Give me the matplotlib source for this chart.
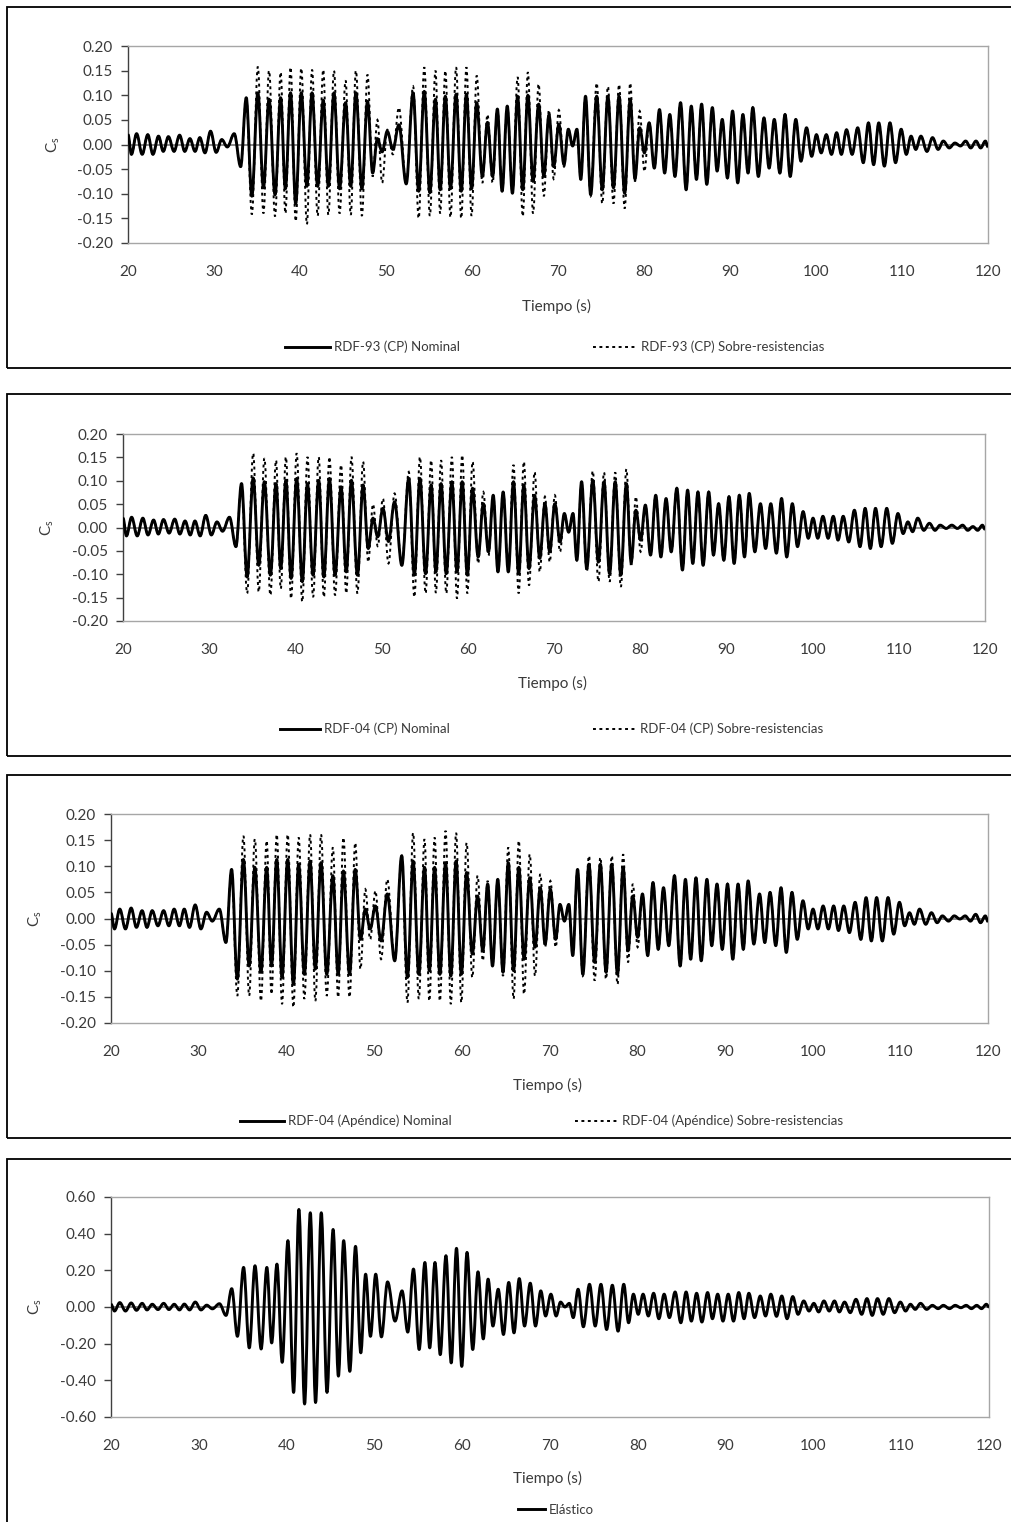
import matplotlib
matplotlib.use("Agg")
import matplotlib.pyplot as plt
from matplotlib.lines import Line2D
from matplotlib.patches import Rectangle, PathPatch
from matplotlib.path import Path
from matplotlib.ticker import FuncFormatter

plt.rcParams['font.family'] = ['Lato', 'DejaVu Sans']
plt.rcParams['font.weight'] = 'normal'
plt.rcParams['mathtext.fontset'] = 'custom'
plt.rcParams['mathtext.rm'] = 'Lato'

# ---------------- data (times of the successive extremes, s) ----------------
t_ext = [20.0, 20.4, 21.0, 21.65, 22.3, 22.9, 23.55, 24.1, 24.7, 25.35, 26.0, 26.6,
         27.2, 27.8, 28.35, 28.95, 29.6, 30.25, 30.9, 31.55, 32.35, 33.1,
         33.75, 34.4, 35.1, 35.75, 36.4, 37.1, 37.75, 38.3, 38.9, 39.5, 40.15, 40.8,
         41.4, 42.05, 42.7, 43.3, 43.95, 44.6, 45.3, 45.9, 46.5, 47.2, 47.85, 48.45,
         49.0, 49.55, 50.15, 50.8, 51.5, 52.35,
         53.15, 53.8, 54.45, 55.1, 55.75, 56.3, 56.9, 57.5, 58.15, 58.75, 59.35, 59.95,
         60.55, 61.2, 61.8, 62.4, 62.95, 63.5, 64.1, 64.7, 65.3, 65.9, 66.5, 67.1,
         67.75, 68.35, 68.95, 69.5,
         70.1, 70.7, 71.2, 71.7, 72.2, 72.65,
         73.2, 73.8, 74.5, 75.15, 75.8, 76.45, 77.1, 77.75, 78.4, 78.95, 79.5, 80.05,
         80.6, 81.2, 81.8, 82.4, 83.0, 83.6, 84.25, 84.9, 85.5, 86.1, 86.7, 87.3,
         87.95, 88.5, 89.1, 89.7, 90.3, 90.9, 91.5, 92.1, 92.65, 93.3, 93.95, 94.55,
         95.15, 95.8, 96.4, 97.0, 97.65, 98.25, 98.9, 99.5,
         100.05, 100.6, 101.2, 101.8, 102.4, 102.95, 103.55, 104.2, 104.85, 105.5,
         106.1, 106.7, 107.3, 107.95, 108.6, 109.25, 109.9, 110.5, 111.05, 111.6,
         112.2, 112.9, 113.55, 114.2, 114.8, 115.5, 116.15, 116.8, 117.4, 118.0,
         118.6, 119.15, 119.7, 120.0]

# RDF-93 (CP) Nominal
nom_93 = [0.02, -0.02, 0.022, -0.02, 0.02, -0.02, 0.017, -0.014, 0.016, -0.014,
          0.019, -0.014, 0.012, -0.014, 0.014, -0.017, 0.027, -0.016, 0.01, -0.005, 0.022, -0.045,
          0.095, -0.105, 0.105, -0.088, 0.092, -0.102, 0.095, -0.09, 0.105, -0.12,
          0.105, -0.085, 0.105, -0.085, 0.09, -0.085, 0.105, -0.09, 0.085, -0.085, 0.105, -0.09, 0.088, -0.058,
          0.012, -0.015, 0.027, -0.01, 0.04, -0.08,
          0.105, -0.095, 0.108, -0.098, 0.092, -0.092, 0.098, -0.09, 0.102, -0.095,
          0.102, -0.09, 0.085, -0.065, 0.045, -0.065, 0.072, -0.095, 0.078, -0.099,
          0.098, -0.092, 0.1, -0.075, 0.082, -0.065, 0.06, -0.045,
          0.041, -0.041, 0.031, -0.003, 0.031, -0.071,
          0.098, -0.102, 0.098, -0.092, 0.098, -0.088, 0.098, -0.099, 0.092, -0.07, 0.034, -0.017,
          0.044, -0.048, 0.071, -0.058, 0.061, -0.065, 0.085, -0.092, 0.078, -0.071,
          0.082, -0.081, 0.075, -0.054, 0.051, -0.068, 0.068, -0.078, 0.061, -0.058,
          0.075, -0.065, 0.054, -0.048, 0.051, -0.058, 0.061, -0.065, 0.051, -0.034, 0.034, -0.024,
          0.02, -0.017, 0.02, -0.02, 0.024, -0.02, 0.03, -0.02, 0.034, -0.037,
          0.044, -0.041, 0.044, -0.044, 0.044, -0.037, 0.031, -0.02, 0.017, -0.01,
          0.017, -0.014, 0.014, -0.01, 0.007, -0.007, 0.003, -0.003, 0.007, -0.007,
          0.007, -0.007, 0.007, -0.005]
# RDF-93 (CP) Sobre-resistencias, strong-motion part (33.75 s - 80.05 s)
sob_93_mid = [0.095, -0.142, 0.158, -0.14, 0.15, -0.146, 0.147, -0.14, 0.157, -0.156,
              0.155, -0.162, 0.152, -0.145, 0.152, -0.143, 0.15, -0.14, 0.13, -0.143, 0.15, -0.145, 0.142, -0.065,
              0.05, -0.078, 0.03, -0.02, 0.075, -0.08,
              0.118, -0.15, 0.157, -0.145, 0.15, -0.14, 0.15, -0.148, 0.157, -0.15,
              0.157, -0.145, 0.14, -0.078, 0.061, -0.078, 0.072, -0.095, 0.078, -0.099,
              0.137, -0.146, 0.147, -0.14, 0.123, -0.105, 0.07, -0.07,
              0.07, -0.045, 0.031, -0.003, 0.031, -0.071,
              0.098, -0.105, 0.125, -0.12, 0.118, -0.12, 0.122, -0.13, 0.125, -0.075, 0.068, -0.055]

# RDF-04 (CP) Nominal
nom_04 = [0.02, -0.018, 0.022, -0.018, 0.02, -0.016, 0.016, -0.014, 0.017, -0.012,
          0.018, -0.014, 0.014, -0.016, 0.014, -0.018, 0.026, -0.016, 0.012, -0.008, 0.022, -0.041,
          0.094, -0.106, 0.106, -0.081, 0.098, -0.102, 0.094, -0.088, 0.101, -0.109,
          0.105, -0.116, 0.094, -0.102, 0.101, -0.106, 0.105, -0.102, 0.087, -0.095, 0.101, -0.102, 0.091, -0.045,
          0.02, -0.02, 0.041, -0.03, 0.055, -0.081,
          0.105, -0.102, 0.105, -0.099, 0.091, -0.095, 0.094, -0.099, 0.098, -0.095,
          0.098, -0.102, 0.084, -0.063, 0.051, -0.052, 0.069, -0.095, 0.076, -0.095,
          0.098, -0.099, 0.091, -0.088, 0.069, -0.066, 0.051, -0.052,
          0.051, -0.031, 0.03, -0.01, 0.03, -0.07,
          0.098, -0.088, 0.101, -0.074, 0.098, -0.099, 0.098, -0.102, 0.094, -0.074, 0.037, -0.027,
          0.048, -0.059, 0.069, -0.063, 0.062, -0.052, 0.084, -0.091, 0.08, -0.077,
          0.076, -0.081, 0.076, -0.059, 0.051, -0.07, 0.066, -0.077, 0.069, -0.063,
          0.073, -0.052, 0.051, -0.045, 0.051, -0.055, 0.062, -0.063, 0.051, -0.041, 0.034, -0.023,
          0.02, -0.023, 0.024, -0.023, 0.024, -0.027, 0.024, -0.031, 0.037, -0.041,
          0.041, -0.045, 0.041, -0.041, 0.041, -0.034, 0.03, -0.013, 0.012, -0.009,
          0.02, -0.006, 0.009, -0.006, 0.005, -0.002, 0.005, -0.002, 0.005, -0.006,
          0.002, -0.006, 0.005, -0.004]
sob_04_mid = [0.094, -0.141, 0.159, -0.138, 0.148, -0.145, 0.144, -0.131, 0.151, -0.152,
              0.159, -0.159, 0.151, -0.149, 0.151, -0.149, 0.151, -0.145, 0.134, -0.141, 0.151, -0.141, 0.141, -0.074,
              0.05, -0.04, 0.062, -0.077, 0.073, -0.081,
              0.119, -0.149, 0.151, -0.141, 0.144, -0.14, 0.144, -0.141, 0.151, -0.152,
              0.155, -0.141, 0.141, -0.077, 0.076, -0.06, 0.069, -0.095, 0.076, -0.095,
              0.134, -0.141, 0.141, -0.124, 0.119, -0.095, 0.066, -0.074,
              0.069, -0.052, 0.03, -0.01, 0.03, -0.07,
              0.098, -0.095, 0.121, -0.116, 0.118, -0.116, 0.118, -0.127, 0.125, -0.084, 0.066, -0.052]

# RDF-04 (Apéndice) Nominal
nom_ap = [0.01, -0.02, 0.018, -0.02, 0.02, -0.017, 0.015, -0.017, 0.015, -0.014,
          0.015, -0.014, 0.018, -0.014, 0.018, -0.017, 0.026, -0.02, 0.012, -0.005, 0.018, -0.046,
          0.094, -0.116, 0.113, -0.091, 0.098, -0.103, 0.098, -0.091, 0.113, -0.113,
          0.113, -0.126, 0.104, -0.107, 0.11, -0.097, 0.107, -0.107, 0.082, -0.107, 0.091, -0.107, 0.094, -0.04,
          0.018, -0.02, 0.024, -0.043, 0.047, -0.081,
          0.12, -0.113, 0.11, -0.107, 0.098, -0.1, 0.098, -0.107, 0.107, -0.11,
          0.11, -0.107, 0.088, -0.068, 0.043, -0.062, 0.066, -0.091, 0.075, -0.103,
          0.107, -0.1, 0.098, -0.078, 0.078, -0.055, 0.059, -0.049,
          0.056, -0.04, 0.027, -0.005, 0.027, -0.071,
          0.094, -0.107, 0.104, -0.084, 0.104, -0.103, 0.104, -0.107, 0.098, -0.062, 0.043, -0.036,
          0.047, -0.071, 0.069, -0.059, 0.059, -0.052, 0.082, -0.091, 0.075, -0.078,
          0.078, -0.081, 0.075, -0.052, 0.066, -0.059, 0.066, -0.078, 0.066, -0.059,
          0.072, -0.049, 0.047, -0.046, 0.05, -0.052, 0.059, -0.065, 0.05, -0.04, 0.034, -0.02,
          0.018, -0.02, 0.024, -0.02, 0.024, -0.023, 0.024, -0.027, 0.031, -0.04,
          0.04, -0.043, 0.04, -0.043, 0.04, -0.03, 0.031, -0.014, 0.011, -0.011,
          0.018, -0.011, 0.011, -0.008, 0.005, -0.005, 0.005, -0.001, 0.005, -0.005,
          0.008, -0.008, 0.005, -0.006]
sob_ap_mid = [0.094, -0.148, 0.158, -0.148, 0.152, -0.158, 0.149, -0.145, 0.161, -0.164,
              0.161, -0.17, 0.155, -0.154, 0.161, -0.158, 0.161, -0.148, 0.136, -0.151, 0.155, -0.151, 0.145, -0.097,
              0.056, -0.04, 0.053, -0.078, 0.075, -0.081,
              0.12, -0.161, 0.164, -0.154, 0.152, -0.158, 0.155, -0.158, 0.168, -0.164,
              0.164, -0.161, 0.145, -0.113, 0.082, -0.081, 0.072, -0.091, 0.075, -0.11,
              0.136, -0.154, 0.149, -0.145, 0.123, -0.11, 0.085, -0.055,
              0.072, -0.055, 0.027, -0.005, 0.027, -0.071,
              0.094, -0.11, 0.12, -0.119, 0.117, -0.116, 0.12, -0.126, 0.123, -0.084, 0.066, -0.055]

# Elástico
elastico = [0.015, -0.022, 0.024, -0.022, 0.022, -0.018, 0.02, -0.016, 0.015, -0.014,
            0.02, -0.014, 0.015, -0.016, 0.016, -0.016, 0.027, -0.016, 0.01, -0.01, 0.018, -0.046,
            0.10, -0.16, 0.216, -0.223, 0.225, -0.229, 0.216, -0.196, 0.234, -0.302,
            0.362, -0.466, 0.532, -0.529, 0.514, -0.521, 0.514, -0.466, 0.423, -0.377, 0.362, -0.351, 0.331, -0.25,
            0.179, -0.16, 0.179, -0.163, 0.137, -0.077,
            0.088, -0.137, 0.207, -0.232, 0.243, -0.223, 0.243, -0.26, 0.28, -0.305,
            0.32, -0.324, 0.298, -0.232, 0.192, -0.174, 0.152, -0.104, 0.097, -0.15,
            0.134, -0.141, 0.155, -0.104, 0.13, -0.104, 0.088, -0.049,
            0.07, -0.049, 0.027, 0.0, 0.02, -0.058,
            0.097, -0.108, 0.124, -0.104, 0.124, -0.123, 0.119, -0.132, 0.124, -0.086, 0.07, -0.04,
            0.07, -0.049, 0.075, -0.064, 0.07, -0.058, 0.082, -0.086, 0.082, -0.077,
            0.075, -0.082, 0.079, -0.064, 0.07, -0.077, 0.07, -0.077, 0.079, -0.064,
            0.075, -0.058, 0.06, -0.049, 0.07, -0.051, 0.06, -0.064, 0.057, -0.04, 0.033, -0.022,
            0.02, -0.027, 0.033, -0.022, 0.033, -0.027, 0.027, -0.031, 0.042, -0.04,
            0.046, -0.046, 0.046, -0.04, 0.046, -0.031, 0.027, -0.022, 0.015, -0.013,
            0.02, -0.013, 0.009, -0.009, 0.009, -0.009, 0.009, -0.004, 0.009, -0.009,
            0.009, -0.009, 0.015, 0.0]

x_ticks = [20, 30, 40, 50, 60, 70, 80, 90, 100, 110, 120]
y_ticks_small = [-0.20, -0.15, -0.10, -0.05, 0.00, 0.05, 0.10, 0.15, 0.20]
y_ticks_big = [-0.60, -0.40, -0.20, 0.00, 0.20, 0.40, 0.60]

labels_nom = ['RDF-93 (CP) Nominal', 'RDF-04 (CP) Nominal', 'RDF-04 (Apéndice) Nominal']
labels_sob = ['RDF-93 (CP) Sobre-resistencias', 'RDF-04 (CP) Sobre-resistencias',
              'RDF-04 (Apéndice) Sobre-resistencias']
label_el = 'Elástico'

# sobre-resistencias series: same record outside the strong-motion window
n_head = 22
sob_93 = nom_93[:n_head] + sob_93_mid + nom_93[n_head + len(sob_93_mid):]
sob_04 = nom_04[:n_head] + sob_04_mid + nom_04[n_head + len(sob_04_mid):]
sob_ap = nom_ap[:n_head] + sob_ap_mid + nom_ap[n_head + len(sob_ap_mid):]

# ---------------- figure ----------------
W, H = 1012, 1522
fig = plt.figure(figsize=(W / 100, H / 100), dpi=100)
fig.patch.set_facecolor('white')

TXT = '#3a3a3a'
DOT = (0, (1.5, 1.8))


def fx(x):
    return x / W


def fy(y):
    return 1 - y / H


def frame(top, bottom):
    fig.add_artist(Rectangle((fx(7), fy(bottom)), (W + 20 - 7) / W, (bottom - top) / H,
                             transform=fig.transFigure, fill=False, ec='black', lw=1.3,
                             clip_on=False))


def smooth_trace(ax, ts, vs, **kw):
    # smooth curve through the read extremes (horizontal tangent at each extreme)
    n = min(len(ts), len(vs))
    verts = [(ts[0], vs[0])]
    codes = [Path.MOVETO]
    for i in range(n - 1):
        d = ts[i + 1] - ts[i]
        verts += [(ts[i] + 0.36 * d, vs[i]), (ts[i + 1] - 0.36 * d, vs[i + 1]),
                  (ts[i + 1], vs[i + 1])]
        codes += [Path.CURVE4] * 3
    ax.add_patch(PathPatch(Path(verts, codes), fill=False, **kw))


def panel(box, ylim, yticks, series, ylab_x, xlab, legends):
    x0, y0, x1, y1 = box
    ax = fig.add_axes([fx(x0), fy(y1), (x1 - x0) / W, (y1 - y0) / H])
    ax.set_xlim(20, 120)
    ax.set_ylim(*ylim)
    ax.set_xticks(x_ticks)
    ax.set_yticks(yticks)
    ax.yaxis.set_major_formatter(FuncFormatter(lambda v, p: f"{v:.2f}"))
    ax.axhline(0, color='#808080', lw=1.3, zorder=1)
    for (vals, style) in series:
        if style == 'solid':
            smooth_trace(ax, t_ext, vals, ec='black', lw=2.1, joinstyle='round', zorder=3)
        else:
            smooth_trace(ax, t_ext, vals, ec='black', lw=1.4, ls=DOT, zorder=4)
    for s in ['top', 'right', 'bottom']:
        ax.spines[s].set_color('#a6a6a6')
        ax.spines[s].set_linewidth(1.0)
    ax.spines['left'].set_color('#404040')
    ax.spines['left'].set_linewidth(1.0)
    ax.tick_params(axis='x', length=0, pad=16, labelsize=11, labelcolor=TXT)
    ax.tick_params(axis='y', direction='out', length=5, width=1, color='#404040',
                   pad=6, labelsize=11, labelcolor=TXT)
    fig.text(fx(ylab_x), fy((y0 + y1) / 2), r'$\mathregular{C_s}$', rotation=90,
             ha='center', va='center', fontsize=11, color=TXT)
    fig.text(fx(xlab[0]), fy(xlab[1]), 'Tiempo (s)', ha='center', va='center',
             fontsize=11, color=TXT)
    for (xs, ln_px, y, lab, style) in legends:
        fs = 9.5
        em = fs * 100 / 72
        if style == 'solid':
            h = Line2D([], [], color='black', lw=2.1)
        else:
            h = Line2D([], [], color='black', lw=1.4, ls=DOT)
        fig.legend(handles=[h], labels=[lab], loc='center left',
                   bbox_to_anchor=(fx(xs), fy(y)), frameon=False, fontsize=fs,
                   handlelength=ln_px / em, handletextpad=0.3, borderpad=0,
                   borderaxespad=0, labelcolor=TXT)
    return ax


# Panel 1
frame(7, 368)
panel((128, 46, 988, 243), (-0.20, 0.20), y_ticks_small,
      [(nom_93, 'solid'), (sob_93, 'dot')], 53, (557, 306),
      [(285, 45, 347, labels_nom[0], 'solid'), (593, 44, 347, labels_sob[0], 'dot')])

# Panel 2
frame(394, 756)
panel((123, 434, 985, 621), (-0.20, 0.20), y_ticks_small,
      [(nom_04, 'solid'), (sob_04, 'dot')], 47, (553, 683),
      [(280, 40, 729, labels_nom[1], 'solid'), (593, 43, 729, labels_sob[1], 'dot')])

# Panel 3
frame(775, 1138)
panel((111, 814, 988, 1023), (-0.20, 0.20), y_ticks_small,
      [(nom_ap, 'solid'), (sob_ap, 'dot')], 35, (548, 1085),
      [(240, 44, 1121, labels_nom[2], 'solid'), (575, 43, 1121, labels_sob[2], 'dot')])

# Panel 4
frame(1159, 1540)
panel((111, 1197, 989, 1417), (-0.60, 0.60), y_ticks_big,
      [(elastico, 'solid')], 35, (548, 1478),
      [(518, 27, 1510, label_el, 'solid')])

fig.savefig('out.png', dpi=100, facecolor='white')
